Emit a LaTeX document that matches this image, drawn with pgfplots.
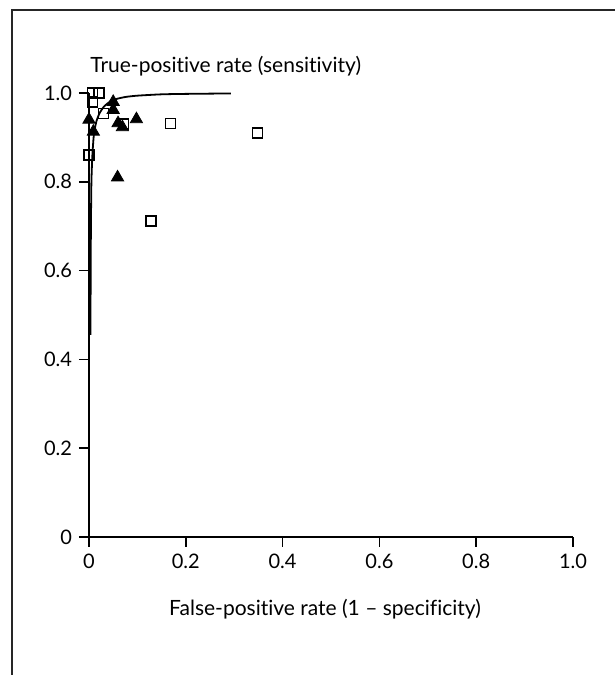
\documentclass[border=0pt]{standalone}
\usepackage{pgfplots}
\pgfplotsset{compat=1.18}
\usepackage{fontspec}
\setmainfont{Lato}[Ligatures=NoCommon]
\begin{document}
\begin{tikzpicture}[x=1pt,y=1pt]
\path[use as bounding box] (0,0) rectangle (307.5,337.5);
\draw[line width=0.75pt,black!85] (6,0) -- (6,332.5) -- (307.5,332.5);
\begin{axis}[
  at={(44.5pt,69pt)}, anchor=origin,
  scale only axis, width=242pt, height=222pt,
  xmin=0, xmax=1, ymin=0, ymax=1,
  axis x line=bottom, axis y line=left,
  axis line style={-, line width=0.8pt},
  tick align=outside, major tick length=5pt,
  every tick/.style={black, line width=0.8pt},
  xtick={0,0.2,0.4,0.6,0.8,1.0}, xticklabels={0,0.2,0.4,0.6,0.8,1.0},
  ytick={0,0.2,0.4,0.6,0.8,1.0}, yticklabels={0,0.2,0.4,0.6,0.8,1.0},
  tick label style={font=\fontsize{10}{12}\selectfont},
  clip=false,
]
\addplot[black, line width=0.9pt, smooth, tension=0.4] coordinates {
(0.003,0.455) (0.0035,0.6) (0.004,0.7) (0.005,0.8) (0.007,0.86) (0.01,0.905)
(0.015,0.935) (0.022,0.955) (0.03,0.968) (0.04,0.978) (0.055,0.986)
(0.075,0.991) (0.1,0.994) (0.15,0.997) (0.2,0.998) (0.293,0.999)};
\addplot[only marks, mark=square, mark size=2.5pt, mark options={black, fill=white, line width=0.7pt}] coordinates {
(0.007,1.0) (0.021,1.0) (0.007,0.98) (0.03,0.954) (0.071,0.93) (0.0,0.86)
(0.168,0.931) (0.348,0.91) (0.128,0.712)};
\addplot[only marks, mark=triangle*, mark size=3.5pt, mark options={black, fill=black}] coordinates {
(0.05,0.98) (0.05,0.962) (0.0,0.94) (0.009,0.913) (0.06,0.932)
(0.069,0.923) (0.098,0.941) (0.059,0.81)};
\end{axis}
\node[anchor=base west, inner sep=0pt, font=\fontsize{10.5}{12}\selectfont] at (45,301) {True-positive rate (sensitivity)};
\node[anchor=base, inner sep=0pt, font=\fontsize{10.5}{12}\selectfont] at (162.5,30) {False-positive rate (1 -- specificity)};
\end{tikzpicture}
\end{document}
